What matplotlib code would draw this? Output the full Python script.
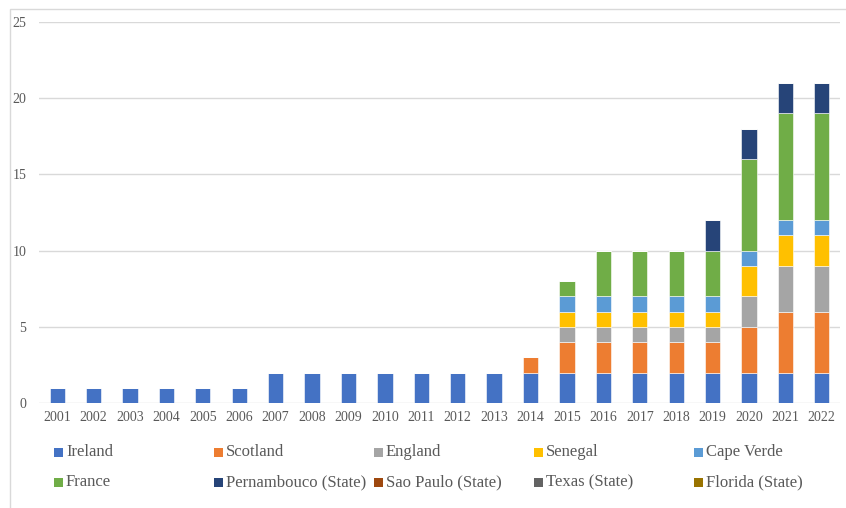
import matplotlib
matplotlib.use('Agg')
import matplotlib.pyplot as plt
from matplotlib.patches import Rectangle
import numpy as np

# data
years = [str(y) for y in range(2001, 2023)]
countries = ["Ireland", "Scotland", "England", "Senegal", "Cape Verde",
             "France", "Pernambouco (State)", "Sao Paulo (State)",
             "Texas (State)", "Florida (State)"]
colors = ["#4472C4", "#ED7D31", "#A5A5A5", "#FFC000", "#5B9BD5",
          "#70AD47", "#264478", "#9E480E", "#636363", "#997300"]

ireland     = [1, 1, 1, 1, 1, 1, 2, 2, 2, 2, 2, 2, 2, 2, 2, 2, 2, 2, 2, 2, 2, 2]
scotland    = [0, 0, 0, 0, 0, 0, 0, 0, 0, 0, 0, 0, 0, 1, 2, 2, 2, 2, 2, 3, 4, 4]
england     = [0, 0, 0, 0, 0, 0, 0, 0, 0, 0, 0, 0, 0, 0, 1, 1, 1, 1, 1, 2, 3, 3]
senegal     = [0, 0, 0, 0, 0, 0, 0, 0, 0, 0, 0, 0, 0, 0, 1, 1, 1, 1, 1, 2, 2, 2]
cape_verde  = [0, 0, 0, 0, 0, 0, 0, 0, 0, 0, 0, 0, 0, 0, 1, 1, 1, 1, 1, 1, 1, 1]
france      = [0, 0, 0, 0, 0, 0, 0, 0, 0, 0, 0, 0, 0, 0, 1, 3, 3, 3, 3, 6, 7, 7]
pernambouco = [0, 0, 0, 0, 0, 0, 0, 0, 0, 0, 0, 0, 0, 0, 0, 0, 0, 0, 2, 2, 2, 2]
sao_paulo   = [0] * 22
texas       = [0] * 22
florida     = [0] * 22

series = [ireland, scotland, england, senegal, cape_verde,
          france, pernambouco, sao_paulo, texas, florida]

plt.rcParams['font.family'] = ['Liberation Serif', 'DejaVu Serif']

fig = plt.figure(figsize=(8.46, 5.08), dpi=100)
fig.patch.set_facecolor('white')

# chart area border
fig.add_artist(Rectangle((10 / 846, -0.1), 1.0, 1 - 9 / 508 + 0.1,
                         transform=fig.transFigure, facecolor='none',
                         edgecolor='#D9D9D9', linewidth=1.0))

ax = fig.add_axes([39 / 846, 1 - 403 / 508, 801 / 846, 381 / 508])

x = np.arange(len(years))
bottom = np.zeros(len(years))
for vals, col in zip(series, colors):
    vals = np.array(vals, dtype=float)
    ax.bar(x, vals, width=0.42, bottom=bottom, color=col,
           edgecolor='white', linewidth=0.4, zorder=3)
    bottom += vals

ax.set_xlim(-0.5, len(years) - 0.5)
ax.set_ylim(0, 25)
ax.set_yticks(range(0, 26, 5))
ax.set_xticks(x)
ax.set_xticklabels(years)
ax.yaxis.grid(True, color='#D9D9D9', linewidth=1.0, zorder=0)
ax.set_axisbelow(True)
for s in ax.spines.values():
    s.set_visible(False)
ax.tick_params(axis='both', length=0, labelsize=10, colors='#595959')
ax.tick_params(axis='x', pad=6)
ax.tick_params(axis='y', pad=9)

# legend, filled row by row like the original
for i, (name, col) in enumerate(zip(countries, colors)):
    row, c = divmod(i, 5)
    cx = 58 + c * 160
    cy = 452 + row * 30
    fig.add_artist(Rectangle(((cx - 4.5) / 846, 1 - (cy + 4.5) / 508),
                             9 / 846, 9 / 508, transform=fig.transFigure,
                             facecolor=col, edgecolor='none'))
    fig.text((cx + 8) / 846, 1 - cy / 508, name, ha='left', va='center',
             fontsize=12, color='#595959')

fig.savefig('out.png', dpi=100, facecolor='white')
